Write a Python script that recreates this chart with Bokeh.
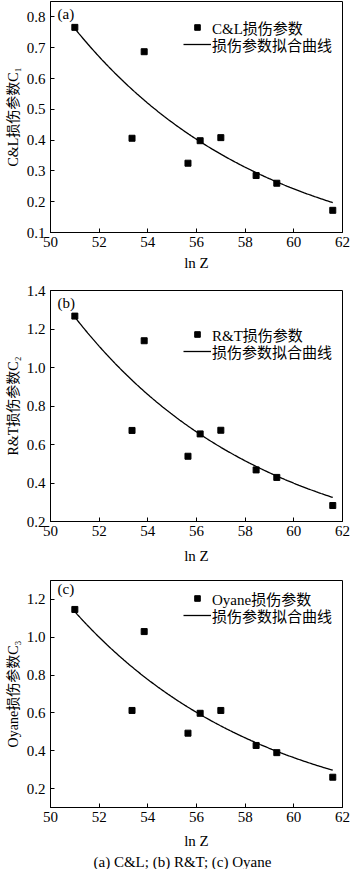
import numpy as np
from bokeh.plotting import figure
from bokeh.models import (Range1d, FixedTicker, PrintfTickFormatter, Label,
                          Legend, LegendItem, ColumnDataSource, Title)
from bokeh.layouts import column
from bokeh.embed import file_html
from bokeh.resources import INLINE

# ---------------- data ----------------
ln_z = [51.0, 53.35, 53.85, 55.65, 56.15, 57.0, 58.45, 59.3, 61.6]
c1_values = [0.766, 0.406, 0.687, 0.325, 0.398, 0.408, 0.285, 0.260, 0.172]
c2_values = [1.267, 0.673, 1.139, 0.539, 0.655, 0.674, 0.468, 0.429, 0.283]
c3_values = [1.147, 0.613, 1.030, 0.493, 0.598, 0.613, 0.428, 0.390, 0.260]

# fitted curve  C = A * exp(-B * (lnZ - 51))   (parameters)
fit_a = [0.762, 1.262, 1.135]
fit_b = [0.1276, 0.1280, 0.1265]
fit_x_start = 51.0
fit_x_end = 61.6

panel_tags = ["(a)", "(b)", "(c)"]
point_labels = ["C&L损伤参数", "R&T损伤参数", "Oyane损伤参数"]
curve_label = "损伤参数拟合曲线"
y_labels = ["C&L损伤参数C\u2081", "R&T损伤参数C\u2082", "Oyane损伤参数C\u2083"]
x_label = "ln Z"
x_ticks = [50, 52, 54, 56, 58, 60, 62]
y_ticks = [[0.1, 0.2, 0.3, 0.4, 0.5, 0.6, 0.7, 0.8],
           [0.2, 0.4, 0.6, 0.8, 1.0, 1.2, 1.4],
           [0.2, 0.4, 0.6, 0.8, 1.0, 1.2]]
y_ranges = [(0.1, 0.85), (0.2, 1.4), (0.1, 1.3)]
caption = "(a) C&L; (b) R&T; (c) Oyane"

# ---------------- layout constants ----------------
LATIN = "Liberation Serif"
MIXED = "'Liberation Serif', 'Noto Sans CJK SC'"
FW, FH = 292, 231
LEFT, RIGHT = 50, 8
X0, X1 = 50, 62
ROW = 24

series = [c1_values, c2_values, c3_values]
# per panel: (border top, border bottom, legend row centres from frame top, x-label standoff)
geo = [(1, 49, (26, 43), 5), (9, 50, (44, 61), 9), (9, 58, (22, 39), 8)]

figs = []
for i in range(3):
    top, bottom, rows, xstand = geo[i]
    yr = y_ranges[i]
    p = figure(width=LEFT + FW + RIGHT, height=top + FH + bottom,
               output_backend="svg", toolbar_location=None,
               x_range=Range1d(X0, X1), y_range=Range1d(*yr),
               min_border_left=LEFT, min_border_right=RIGHT,
               min_border_top=top, min_border_bottom=bottom)
    p.grid.visible = False
    p.outline_line_color = "black"
    p.outline_line_width = 1
    p.background_fill_color = "white"
    p.border_fill_color = "white"

    for ax in (p.xaxis[0], p.yaxis[0]):
        ax.axis_line_color = "black"
        ax.major_tick_line_color = "black"
        ax.major_tick_in = 4
        ax.major_tick_out = 0
        ax.minor_tick_in = 0
        ax.minor_tick_out = 0
        ax.minor_tick_line_color = None
        ax.major_label_text_font = LATIN
        ax.major_label_text_font_size = "15px"
        ax.major_label_text_color = "black"
        ax.axis_label_text_font_style = "normal"
        ax.axis_label_text_color = "black"
    p.xaxis.ticker = FixedTicker(ticks=x_ticks)
    p.xaxis.major_label_standoff = 4
    p.xaxis.axis_label = x_label
    p.xaxis.axis_label_text_font = LATIN
    p.xaxis.axis_label_text_font_size = "15px"
    p.xaxis.axis_label_standoff = xstand
    p.yaxis.ticker = FixedTicker(ticks=y_ticks[i])
    p.yaxis.formatter = PrintfTickFormatter(format="%.1f")
    p.yaxis.major_label_standoff = 5
    p.yaxis.axis_label = y_labels[i]
    p.yaxis.axis_label_text_font = MIXED
    p.yaxis.axis_label_text_font_size = "14px"
    p.yaxis.axis_label_standoff = 3

    src = ColumnDataSource(dict(x=ln_z, y=series[i]))
    sr = p.scatter("x", "y", source=src, marker="square", size=6,
                   fill_color="black", line_color="black")
    cx = np.linspace(fit_x_start, fit_x_end, 200)
    cy = fit_a[i] * np.exp(-fit_b[i] * (cx - fit_x_start))
    lr = p.line(cx, cy, line_color="black", line_width=1.3)

    # two one-row legends, each placed at its own row centre
    for label, rend, centre in ((point_labels[i], sr, rows[0]),
                                (curve_label, lr, rows[1])):
        legend = Legend(items=[LegendItem(label=label, renderers=[rend])],
                        location=(133, FH - centre - ROW / 2),
                        orientation="vertical",
                        padding=0, margin=0, spacing=0,
                        glyph_width=28, glyph_height=14, label_height=ROW,
                        label_standoff=1,
                        label_text_font=MIXED, label_text_font_size="15px",
                        label_text_color="black",
                        border_line_color=None, background_fill_alpha=0)
        p.add_layout(legend)

    # panel tag
    p.add_layout(Label(x=7, y=FH - 12, x_units="screen", y_units="screen",
                       text=panel_tags[i], text_font=LATIN,
                       text_font_size="15px", text_color="black",
                       text_align="left", text_baseline="middle"))

    if i == 2:
        p.add_layout(Title(text=caption, align="left", offset=43,
                           text_font=LATIN, text_font_size="15px",
                           text_font_style="normal", text_color="black",
                           standoff=0), "below")
    figs.append(p)

layout = column(*figs, spacing=0)
open("out.html", "w").write(file_html(layout, INLINE))
